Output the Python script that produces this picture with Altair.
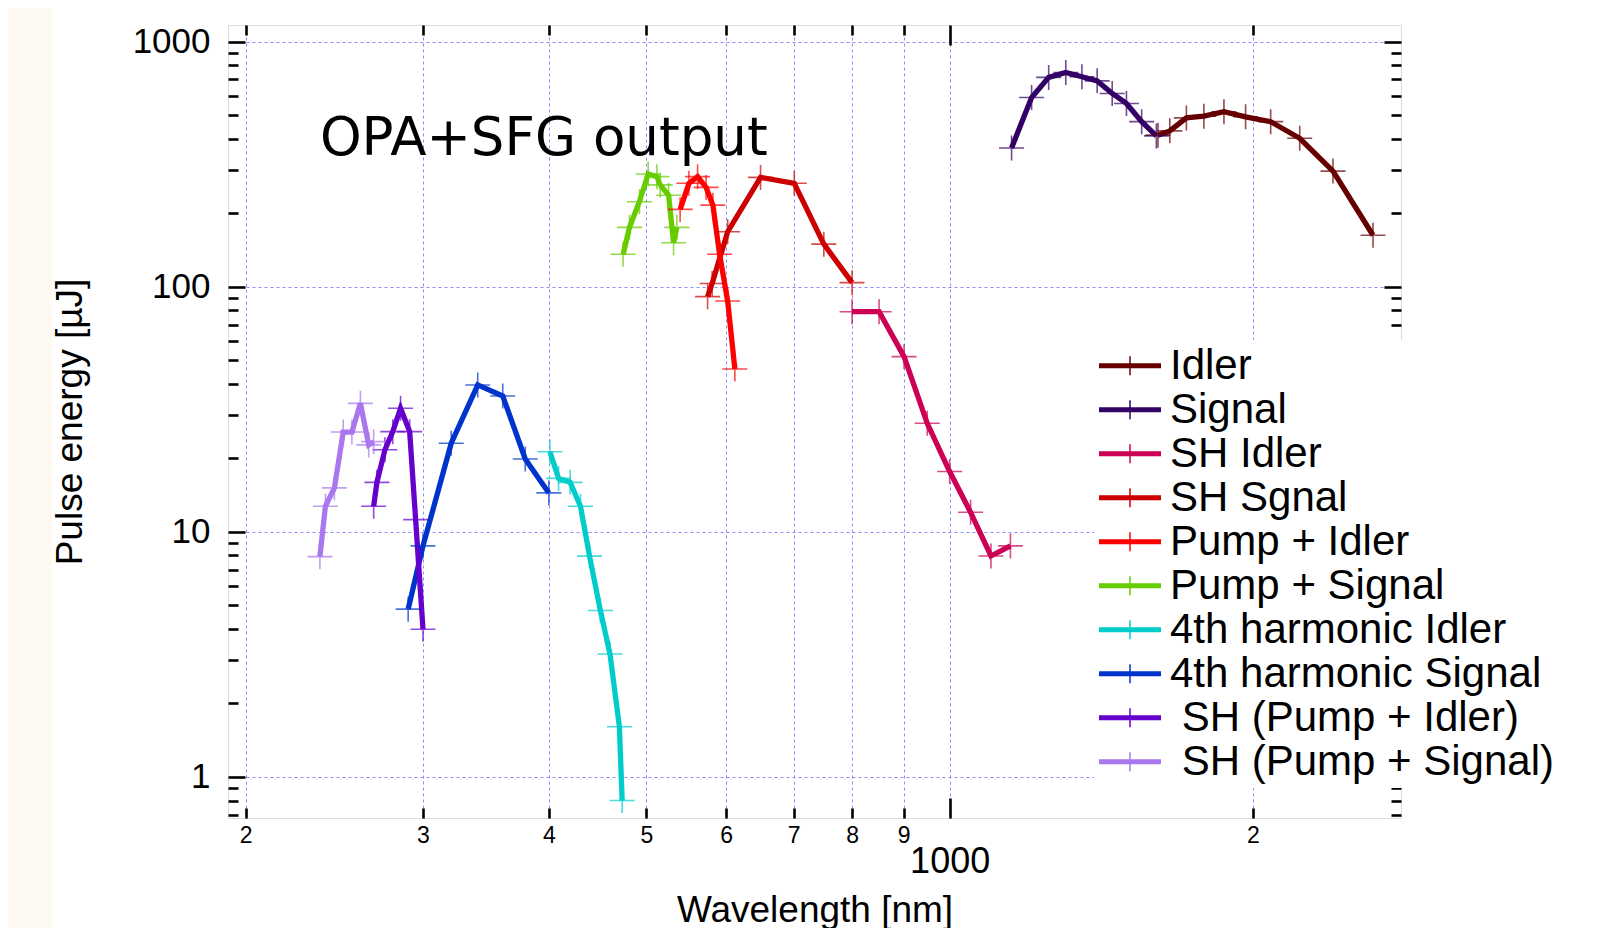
import altair as alt
import pandas as pd

# ---------------- data ----------------
SERIES = ["Idler", "Signal", "SH Idler", "SH Sgnal", "Pump + Idler", "Pump + Signal",
          "4th harmonic Idler", "4th harmonic Signal",
          "\u200b\u00a0SH (Pump + Idler)", "\u200b\u00a0SH (Pump + Signal)"]
COLORS = ["#660000", "#330066", "#CC0055", "#CC0000", "#FF0000", "#66CC00",
          "#00CCCC", "#0033CC", "#6600CC", "#AA77EE"]

IDLER_WL = [1610, 1654, 1718, 1788, 1872, 1967, 2083, 2226, 2402, 2632]
IDLER_E = [415, 432, 488, 496, 517, 493, 471, 403, 296, 162]

SIGNAL_WL = [1152, 1206, 1254, 1304, 1353, 1401, 1450, 1498, 1551, 1604]
SIGNAL_E = [368, 591, 714, 748, 718, 691, 614, 559, 471, 412]

SH_IDLER_WL = [800, 851, 901, 950, 1000, 1049, 1099, 1149]
SH_IDLER_E = [79, 79, 51.8, 27.7, 17.6, 12.0, 7.96, 8.75]

SH_SIGNAL_WL = [575, 581, 602, 649, 701, 750, 800]
SH_SIGNAL_E = [91, 103, 167.5, 279, 264, 149, 103.8]

PUMP_IDLER_WL = [540, 551, 562, 573, 582, 591, 602, 612]
PUMP_IDLER_E = [206.6, 264, 281, 254, 215, 135.5, 87.4, 46.1]

PUMP_SIGNAL_WL = [474, 481, 492, 502, 512, 516, 526, 532, 536]
PUMP_SIGNAL_E = [135.5, 174.5, 222, 288, 281, 260, 236, 151, 174.5]

FH_IDLER_WL = [401, 409, 420, 430, 439, 450, 460, 470, 473]
FH_IDLER_E = [21.2, 16.5, 15.9, 12.7, 7.95, 4.77, 3.17, 1.6, 0.80]

FH_SIGNAL_WL = [290, 300, 320, 340, 360, 379, 400]
FH_SIGNAL_E = [4.83, 8.75, 22.96, 39.7, 35.8, 19.8, 14.4]

SH_PI_WL = [268, 270, 275, 280, 285, 291, 295, 300]
SH_PI_E = [12.7, 15.9, 21.6, 25.6, 31.9, 25.6, 11.2, 4.0]

SH_PS_WL = [237, 240, 245, 250, 255, 260, 265, 268]
SH_PS_E = [7.91, 12.7, 15.1, 25.5, 25.5, 33.4, 22.6, 23.3]

ALL_WL = [IDLER_WL, SIGNAL_WL, SH_IDLER_WL, SH_SIGNAL_WL, PUMP_IDLER_WL, PUMP_SIGNAL_WL,
          FH_IDLER_WL, FH_SIGNAL_WL, SH_PI_WL, SH_PS_WL]
ALL_E = [IDLER_E, SIGNAL_E, SH_IDLER_E, SH_SIGNAL_E, PUMP_IDLER_E, PUMP_SIGNAL_E,
         FH_IDLER_E, FH_SIGNAL_E, SH_PI_E, SH_PS_E]

X_TICKS = [200, 300, 400, 500, 600, 700, 800, 900, 1000, 2000]
Y_MAJOR = [1, 10, 100, 1000]
Y_TICKS = [0.7, 0.8, 0.9, 1, 2, 3, 4, 5, 6, 7, 8, 9, 10, 20, 30, 40, 50, 60, 70, 80, 90,
           100, 200, 300, 400, 500, 600, 700, 800, 900, 1000]
X_DOMAIN = [192.1, 2806]
Y_DOMAIN = [0.679, 1168]

ANNOT_TEXT = ["OPA+SFG output"]
ANNOT_WL = [237]
ANNOT_E = [344]

# ---------------- build table ----------------
rows = []
for name, wls, es in zip(SERIES, ALL_WL, ALL_E):
    for i, (w, v) in enumerate(zip(wls, es)):
        rows.append({"series": name, "wl": w, "e": v, "idx": i})
df = pd.DataFrame(rows)
ann_df = pd.DataFrame({"wl": ANNOT_WL, "e": ANNOT_E, "text": ANNOT_TEXT})

W, H = 1173, 793
FONT = "Liberation Sans"
GRID = "#8C8CFF"

xs = alt.Scale(type="log", domain=X_DOMAIN, nice=False)
ys = alt.Scale(type="log", domain=Y_DOMAIN, nice=False)
cs = alt.Scale(domain=SERIES, range=COLORS)

is1000 = "datum.value == 1000"
ymaj = "datum.value == 1 || datum.value == 10 || datum.value == 100 || datum.value == 1000"

x_label_axis = alt.Axis(
    values=X_TICKS, orient="bottom", ticks=False, domain=False, grid=True,
    gridColor=GRID, gridDash=[3, 3], gridWidth=1,
    labelExpr="datum.value == 1000 ? '1000' : (datum.value < 1000 ? '' + (datum.value / 100) : '' + (datum.value / 1000))",
    labelFontSize={"condition": {"test": is1000, "value": 36}, "value": 23},
    labelPadding={"condition": {"test": is1000, "value": 26}, "value": 6},
    labelBaseline="top", labelFont=FONT, labelColor="black", labelOverlap=False, labelFlush=False,
    title="Wavelength [nm]", titleFont=FONT, titleFontSize=37, titleFontWeight="normal",
    titleColor="black", titlePadding=13)

y_label_axis = alt.Axis(
    values=Y_MAJOR, orient="left", ticks=False, domain=False, grid=True,
    gridColor=GRID, gridDash=[3, 3], gridWidth=1, format="d",
    labelFontSize=35, labelPadding=18, labelFont=FONT, labelColor="black",
    labelOverlap=False, labelFlush=False,
    title="Pulse energy [\u00b5J]", titleFont=FONT, titleFontSize=37, titleFontWeight="normal",
    titleColor="black", titlePadding=43)


def x_tick_axis(orient):
    return alt.Axis(values=X_TICKS, orient=orient, offset=-H, labels=False, domain=False,
                    grid=False, ticks=True, tickColor="black", tickWidth=2.6,
                    tickSize={"condition": {"test": is1000, "value": 20}, "value": 10},
                    title=None)


def y_tick_axis(orient):
    return alt.Axis(values=Y_TICKS, orient=orient, offset=-W, labels=False, domain=False,
                    grid=False, ticks=True, tickColor="black", tickWidth=2.6,
                    tickSize={"condition": {"test": ymaj, "value": 17}, "value": 10},
                    title=None)


LEGEND_SYMBOL = ("M-1,-0.06H1M-1,-0.04H1M-1,-0.02H1M-1,0H1M-1,0.02H1M-1,0.04H1M-1,0.06H1"
                 "M0,-0.31V0.31")

legend = alt.Legend(
    title=None, orient="none", legendX=866, legendY=315, direction="vertical",
    fillColor="white", padding=4, symbolType=LEGEND_SYMBOL, symbolSize=3844,
    symbolStrokeWidth=1.5, clipHeight=43.5, rowPadding=0, symbolOffset=0,
    labelFontSize=42, labelFont=FONT, labelColor="black", labelOffset=8, labelLimit=600)

strip = alt.Chart(pd.DataFrame({"k": [0]})).mark_rect(color="#FFFAF1").encode(
    x=alt.value(-220), x2=alt.value(-176), y=alt.value(-17), y2=alt.value(903))

lines = alt.Chart(df).mark_line(strokeWidth=5.3).encode(
    x=alt.X("wl:Q", scale=xs, axis=x_label_axis),
    y=alt.Y("e:Q", scale=ys, axis=y_label_axis),
    color=alt.Color("series:N", scale=cs, legend=legend),
    order=alt.Order("idx:Q"),
)

pts = alt.Chart(df).mark_point(shape="M-1,0H1M0,-1V1", filled=False, size=625,
                               strokeWidth=1.6, opacity=0.7).encode(
    x=alt.X("wl:Q", scale=xs, axis=x_tick_axis("bottom")),
    y=alt.Y("e:Q", scale=ys, axis=y_tick_axis("right")),
    color=alt.Color("series:N", scale=cs, legend=None),
)

ann = alt.Chart(ann_df).mark_text(align="left", baseline="alphabetic", font="DejaVu Sans",
                                  fontSize=53, color="black").encode(
    x=alt.X("wl:Q", scale=xs, axis=x_tick_axis("top")),
    y=alt.Y("e:Q", scale=ys, axis=y_tick_axis("left")),
    text="text:N",
)

chart = alt.layer(strip, lines, pts, ann).resolve_axis(
    x="independent", y="independent"
).properties(
    width=W, height=H,
    autosize=alt.AutoSizeParams(type="none"),
    padding={"left": 220, "top": 17, "right": 207, "bottom": 110},
).configure_view(stroke="black", strokeWidth=2.7).configure(background="white")

chart.save("out.html", embed_options={"renderer": "svg", "actions": False})
